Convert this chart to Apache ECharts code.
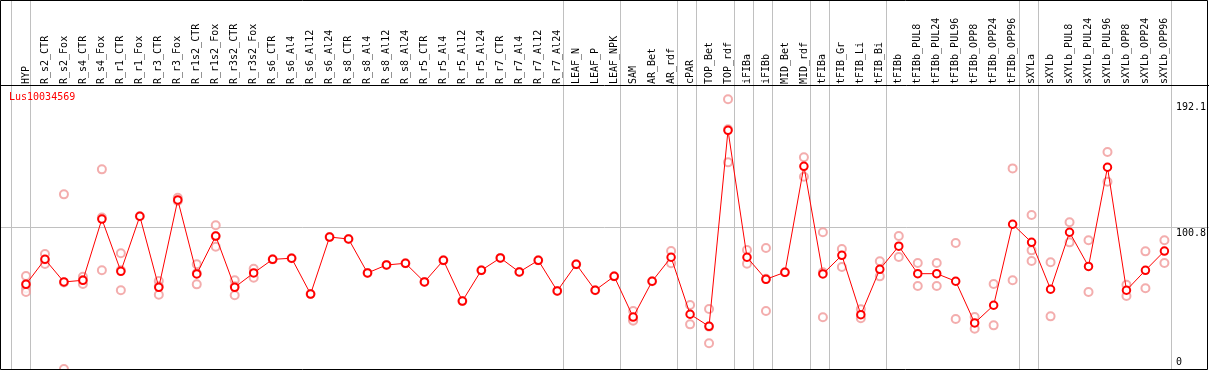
<!DOCTYPE html>
<html>
<head>
<meta charset="utf-8">
<script src="https://cdn.jsdelivr.net/npm/echarts@6/dist/echarts.min.js"></script>
<style>
html,body{margin:0;padding:0;background:#fff;}
#chart{width:1209px;height:370px;}
</style>
</head>
<body>
<div id="chart"></div>
<script>
// ---- data ----
const geneName = 'Lus10034569';
const categories = ['HYP','R_s2_CTR','R_s2_Fox','R_s4_CTR','R_s4_Fox','R_r1_CTR','R_r1_Fox','R_r3_CTR','R_r3_Fox','R_r1s2_CTR','R_r1s2_Fox','R_r3s2_CTR','R_r3s2_Fox','R_s6_CTR','R_s6_Al4','R_s6_Al12','R_s6_Al24','R_s8_CTR','R_s8_Al4','R_s8_Al12','R_s8_Al24','R_r5_CTR','R_r5_Al4','R_r5_Al12','R_r5_Al24','R_r7_CTR','R_r7_Al4','R_r7_Al12','R_r7_Al24','LEAF_N','LEAF_P','LEAF_NPK','SAM','AR_Bet','AR_rdf','cPAR','TOP_Bet','TOP_rdf','iFIBa','iFIBb','MID_Bet','MID_rdf','tFIBa','tFIB_Gr','tFIB_Li','tFIB_Bi','tFIBb','tFIBb_PUL8','tFIBb_PUL24','tFIBb_PUL96','tFIBb_OPP8','tFIBb_OPP24','tFIBb_OPP96','sXYLa','sXYLb','sXYLb_PUL8','sXYLb_PUL24','sXYLb_PUL96','sXYLb_OPP8','sXYLb_OPP24','sXYLb_OPP96'];
const means = [60.3,78.1,62.0,63.2,106.8,69.6,108.8,58.2,120.4,67.7,94.7,58.2,68.4,78.1,78.9,53.4,94.0,92.6,68.4,74.1,75.3,62.0,77.4,48.4,70.3,79.1,69.1,77.4,55.6,74.6,56.1,66.0,37.0,62.5,79.6,39.0,30.4,170.0,79.6,63.9,68.9,144.4,67.7,81.0,38.7,71.0,87.5,67.9,67.9,62.5,32.8,45.4,103.1,90.2,56.8,97.4,73.1,143.7,56.1,70.3,84.0];
const replicates = [
  [66.2,60.5,57.3,54.8],[81.9,77.6,74.8],[124.4,61.6,0],[65.7,63.4,60.5],[142.2,107.9,70.3],[82.4,70.3,56.1],[108.8],[62.7,59.0,52.9],[122.0,119.7],[74.6,68.2,60.3],[102.4,94.6,87.1],[63.2,58.9,52.5],[71.4,65.0],
  [78.1],[78.9],[53.4],[94.0],[92.6],[68.4],[74.1],[75.3],[62.0],[77.4],[48.4],[70.3],[79.1],[69.1],[77.4],[55.6],[74.6],[56.1],[66.0],
  [41.3,35.3,34.4],[62.5],[84.0,75.3],[45.6,31.8],[42.7,30.2,18.3],[192.1,170.7,147.2],[84.8,75.0],[86.2,64.2,41.3],[68.9],[150.8,137.0],
  [97.4,68.9,36.8],[85.5,72.6],[42.5,36.1],[76.7,66.0],[94.7,79.8],[75.5,59.1],[75.5,59.1],[89.7,35.6],[37.0,28.7],[60.5,31.1],[142.9,63.2],
  [109.7,84.5,76.9],[76.0,37.5],[104.5,90.2],[91.7,54.8],[154.6,133.4],[60.0,52.0],[83.8,57.5],[91.7,75.5]
];
const yTickValues = [0, 100.8, 192.1];
const refLineValue = 100.8;
const groupSizes = [1,28,3,3,1,2,1,1,2,1,3,7,1,7];

// ---- derived ----
const repPoints = [];
replicates.forEach((arr, i) => arr.forEach(v => repPoints.push([i, v])));
const boundaries = [-0.5];
let acc = -0.5;
groupSizes.forEach(s => { acc += s; boundaries.push(acc); });

const MONO = 'DejaVu Sans Mono';
const Y_MAX = 202.3;
const n = categories.length;

const chart = echarts.init(document.getElementById('chart'), null, {renderer: 'canvas'});
chart.setOption({
  animation: false,
  backgroundColor: '#ffffff',
  title: {
    text: geneName, left: 9, top: 92, padding: 0,
    textStyle: {color: '#ff0000', fontFamily: MONO, fontSize: 10, fontWeight: 'normal'}
  },
  grid: [
    {left: 16.5, right: 32.8, top: 85, bottom: 1},
    {left: 11.5, right: 37.8, top: 0, bottom: 1},
    {left: 0, right: 0, top: 85, bottom: 1}
  ],
  xAxis: [
    {
      gridIndex: 0, type: 'category', data: categories, position: 'top', boundaryGap: true,
      axisLine: {show: false}, axisTick: {show: false}, splitLine: {show: false},
      axisLabel: {interval: 0, rotate: 90, margin: 1, color: '#000', fontFamily: MONO, fontSize: 10}
    },
    {gridIndex: 1, type: 'value', min: -0.5, max: n - 0.5, show: false},
    {gridIndex: 2, type: 'value', min: 0, max: 1, show: false}
  ],
  yAxis: [
    {
      gridIndex: 0, type: 'value', position: 'right', min: 0, max: Y_MAX,
      axisLine: {show: false}, axisTick: {show: false}, splitLine: {show: false},
      axisLabel: {
        customValues: yTickValues, margin: 2, color: '#000', fontFamily: MONO, fontSize: 10, align: 'left',
        formatter: v => {
          if (v === yTickValues[0]) return '{z|' + v + '}';
          if (v === yTickValues[2]) return '{t|' + v + '}';
          return '{m|' + v + '}';
        },
        rich: {
          z: {fontFamily: MONO, fontSize: 10, color: '#000', padding: [0, 0, 14, 0]},
          m: {fontFamily: MONO, fontSize: 10, color: '#000', padding: [11, 0, 0, 0]},
          t: {fontFamily: MONO, fontSize: 10, color: '#000', padding: [17, 0, 0, 0]}
        }
      }
    },
    {gridIndex: 1, type: 'value', min: 0, max: 1, show: false},
    {gridIndex: 2, type: 'value', min: 0, max: Y_MAX, show: false}
  ],
  series: [
    {
      type: 'line', xAxisIndex: 1, yAxisIndex: 1, data: [], silent: true, z: 1,
      markLine: {
        z: 1, silent: true, symbol: ['none', 'none'], label: {show: false},
        lineStyle: {color: '#c0c0c0', width: 1, type: 'solid'},
        emphasis: {disabled: true},
        data: boundaries.map(b => ({xAxis: b}))
      }
    },
    {
      type: 'line', xAxisIndex: 2, yAxisIndex: 2, data: [], silent: true, z: 1,
      markLine: {
        z: 1, silent: true, symbol: ['none', 'none'], label: {show: false},
        lineStyle: {color: '#c0c0c0', width: 1, type: 'solid'},
        emphasis: {disabled: true},
        data: [{yAxis: refLineValue}]
      }
    },
    {
      type: 'scatter', xAxisIndex: 0, yAxisIndex: 0, data: repPoints, z: 2, silent: true,
      symbol: 'emptyCircle', symbolSize: 8,
      itemStyle: {color: '#f09898', borderColor: '#f09898', borderWidth: 1}
    },
    {
      type: 'line', xAxisIndex: 0, yAxisIndex: 0, data: means, z: 3, silent: true,
      symbol: 'emptyCircle', symbolSize: 7.5, showAllSymbol: true,
      lineStyle: {color: '#ff0000', width: 1},
      itemStyle: {color: '#ff0000', borderColor: '#ff0000', borderWidth: 1.5}
    }
  ],
  graphic: [
    {type: 'rect', silent: true, z: 100, shape: {x: 0.5, y: 0.5, width: 1207, height: 369}, style: {fill: 'none', stroke: '#000', lineWidth: 1}},
    {type: 'line', silent: true, z: 100, shape: {x1: 0, y1: 85.5, x2: 1209, y2: 85.5}, style: {stroke: '#000', lineWidth: 1}}
  ]
});
</script>
</body>
</html>
